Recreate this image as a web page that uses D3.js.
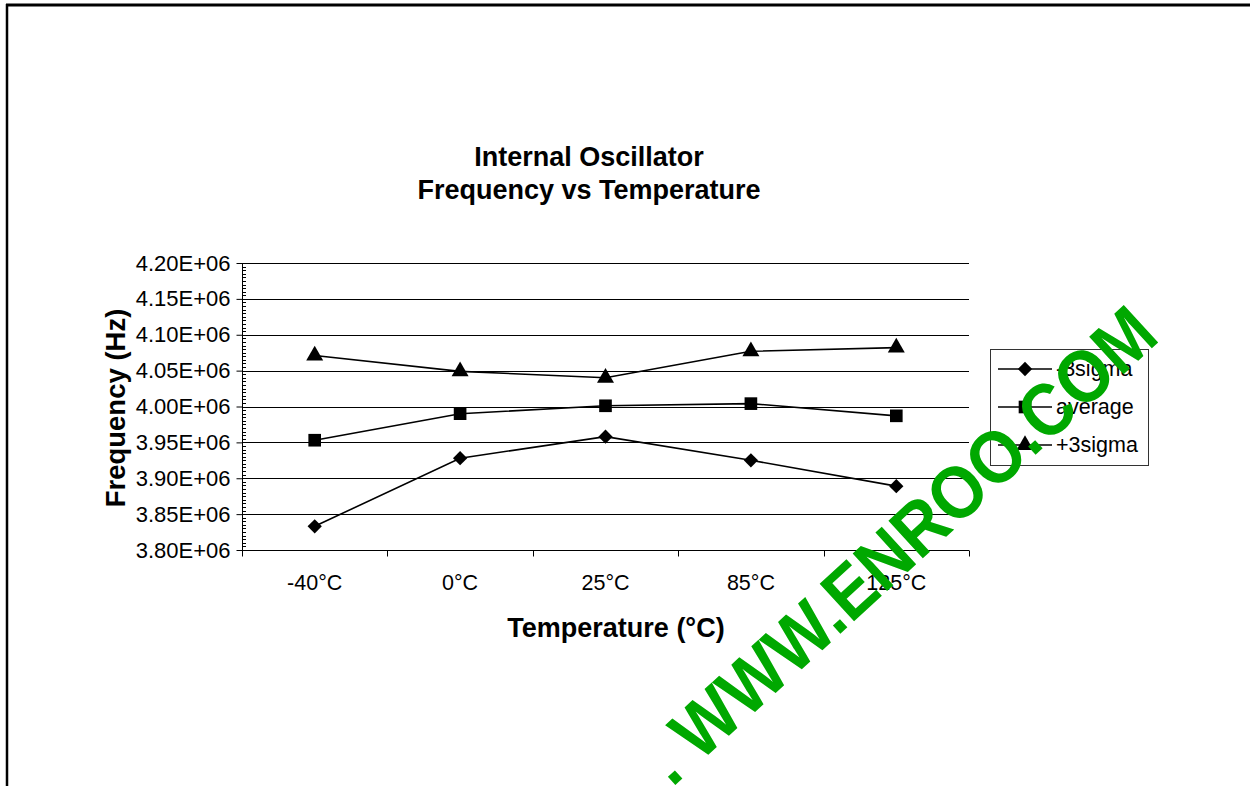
<!DOCTYPE html>
<html><head><meta charset="utf-8">
<script src="https://cdn.jsdelivr.net/npm/d3@7"></script>
<style>html,body{margin:0;padding:0;background:#fff;}svg{display:block;}</style>
</head><body>
<script>
const categories = ["-40°C", "0°C", "25°C", "85°C", "125°C"];
const minus3sigma = [3.833e6, 3.928e6, 3.958e6, 3.925e6, 3.889e6];
const average = [3.953e6, 3.990e6, 4.001e6, 4.004e6, 3.987e6];
const plus3sigma = [4.071e6, 4.049e6, 4.040e6, 4.077e6, 4.082e6];
const seriesNames = ["-3sigma", "average", "+3sigma"];
const yTicks = [3.80e6, 3.85e6, 3.90e6, 3.95e6, 4.00e6, 4.05e6, 4.10e6, 4.15e6, 4.20e6];
const titleLines = ["Internal Oscillator", "Frequency vs Temperature"];
const xTitle = "Temperature (°C)";
const yTitle = "Frequency (Hz)";
const watermark = ". WWW.ENROO.COM";

const W = 1250, H = 786;
const svg = d3.select("body").append("svg").attr("width", W).attr("height", H)
  .style("font-family", "Arial, 'Liberation Sans', sans-serif");

// frame
svg.append("line").attr("x1", 6).attr("x2", W).attr("y1", 5).attr("y2", 5).attr("stroke", "#000").attr("stroke-width", 3);
svg.append("line").attr("x1", 7).attr("x2", 7).attr("y1", 4).attr("y2", H).attr("stroke", "#000").attr("stroke-width", 2.5);

const L = 242, R = 969, T = 263, B = 550;
const x = d3.scaleBand().domain(categories).range([L, R]).padding(0);
const y = d3.scaleLinear().domain([3.80e6, 4.20e6]).range([B, T]);

// gridlines
svg.append("g").selectAll("line").data(yTicks.slice(1)).join("line")
  .attr("x1", L).attr("x2", R)
  .attr("y1", d => Math.round(y(d)) + 0.5).attr("y2", d => Math.round(y(d)) + 0.5)
  .attr("stroke", "#000").attr("stroke-width", 1);

// minor ticks
const minor = d3.range(0, 81).map(i => 3.80e6 + i * 0.005e6);
svg.append("g").selectAll("line").data(minor).join("line")
  .attr("x1", L).attr("x2", L + 4)
  .attr("y1", d => Math.round(y(d)) + 0.5).attr("y2", d => Math.round(y(d)) + 0.5)
  .attr("stroke", "#000").attr("stroke-width", 1);

// y axis
const yAxis = d3.axisLeft(y).tickValues(yTicks).tickSize(6).tickPadding(6)
  .tickFormat(d => (d / 1e6).toFixed(2) + "E+06");
const gy = svg.append("g").attr("transform", `translate(${L + 0.5},0)`).call(yAxis);
gy.select(".domain").attr("stroke", "#000").attr("d", `M0,${T}V${B}`);
gy.selectAll(".tick line").attr("stroke", "#000");
gy.selectAll(".tick text").attr("font-size", 22).attr("fill", "#000").attr("font-family", "Arial, 'Liberation Sans', sans-serif");

// x axis
const gx = svg.append("g").attr("transform", `translate(0,${B + 0.5})`);
gx.append("line").attr("x1", L).attr("x2", R).attr("stroke", "#000");
const bounds = categories.map(c => x(c)).concat([x(categories[categories.length - 1]) + x.bandwidth()]);
gx.selectAll("line.tk").data(bounds).join("line").attr("class", "tk")
  .attr("x1", d => Math.round(d) + 0.5).attr("x2", d => Math.round(d) + 0.5)
  .attr("y1", 0).attr("y2", 6).attr("stroke", "#000");
gx.selectAll("text").data(categories).join("text")
  .attr("x", d => x(d) + x.bandwidth() / 2).attr("y", 39)
  .attr("text-anchor", "middle").attr("font-size", 21.5).text(d => d);

// series
const cx = c => x(c) + x.bandwidth() / 2;
const line = d3.line().x((d, i) => cx(categories[i])).y(d => y(d));
const seriesData = [minus3sigma, average, plus3sigma];
const symbols = [d3.symbolDiamond2, d3.symbolSquare, d3.symbolTriangle];
const symSizes = [130, 160, 125];
seriesData.forEach((vals, s) => {
  svg.append("path").datum(vals).attr("d", line).attr("fill", "none")
    .attr("stroke", "#000").attr("stroke-width", 1.6);
  svg.append("g").selectAll("path").data(vals).join("path")
    .attr("transform", (d, i) => `translate(${cx(categories[i])},${y(d)})`)
    .attr("d", d3.symbol().type(symbols[s]).size(symSizes[s])())
    .attr("fill", "#000");
});

// title
svg.append("g").selectAll("text").data(titleLines).join("text")
  .attr("x", 589).attr("y", (d, i) => 166 + i * 33)
  .attr("text-anchor", "middle").attr("font-size", 27).attr("font-weight", "bold").text(d => d);

// axis titles
svg.append("text").attr("x", 616).attr("y", 637).attr("text-anchor", "middle")
  .attr("font-size", 27).attr("font-weight", "bold").text(xTitle);
svg.append("text").attr("transform", "translate(125,408) rotate(-90)").attr("text-anchor", "middle")
  .attr("font-size", 27.5).attr("font-weight", "bold").text(yTitle);

// legend
const lg = svg.append("g");
lg.append("rect").attr("x", 990.5).attr("y", 349.5).attr("width", 158).attr("height", 116)
  .attr("fill", "#fff").attr("stroke", "#333").attr("stroke-width", 1);
const rowsY = [369, 407, 445];
seriesNames.forEach((nm, s) => {
  lg.append("line").attr("x1", 998).attr("x2", 1052).attr("y1", rowsY[s]).attr("y2", rowsY[s])
    .attr("stroke", "#000").attr("stroke-width", 1.6);
  lg.append("path").attr("transform", `translate(1025,${rowsY[s]})`)
    .attr("d", d3.symbol().type(symbols[s]).size(symSizes[s])()).attr("fill", "#000");
  lg.append("text").attr("x", 1056).attr("y", rowsY[s] + 7).attr("font-size", 21.5).text(nm);
});

// watermark
svg.append("text").attr("transform", "translate(672,788) rotate(-42.5)")
  .attr("font-size", 74).attr("font-weight", "bold").attr("fill", "#00A800")
  .attr("textLength", 664).attr("lengthAdjust", "spacingAndGlyphs")
  .text(watermark);
</script>
</body></html>
